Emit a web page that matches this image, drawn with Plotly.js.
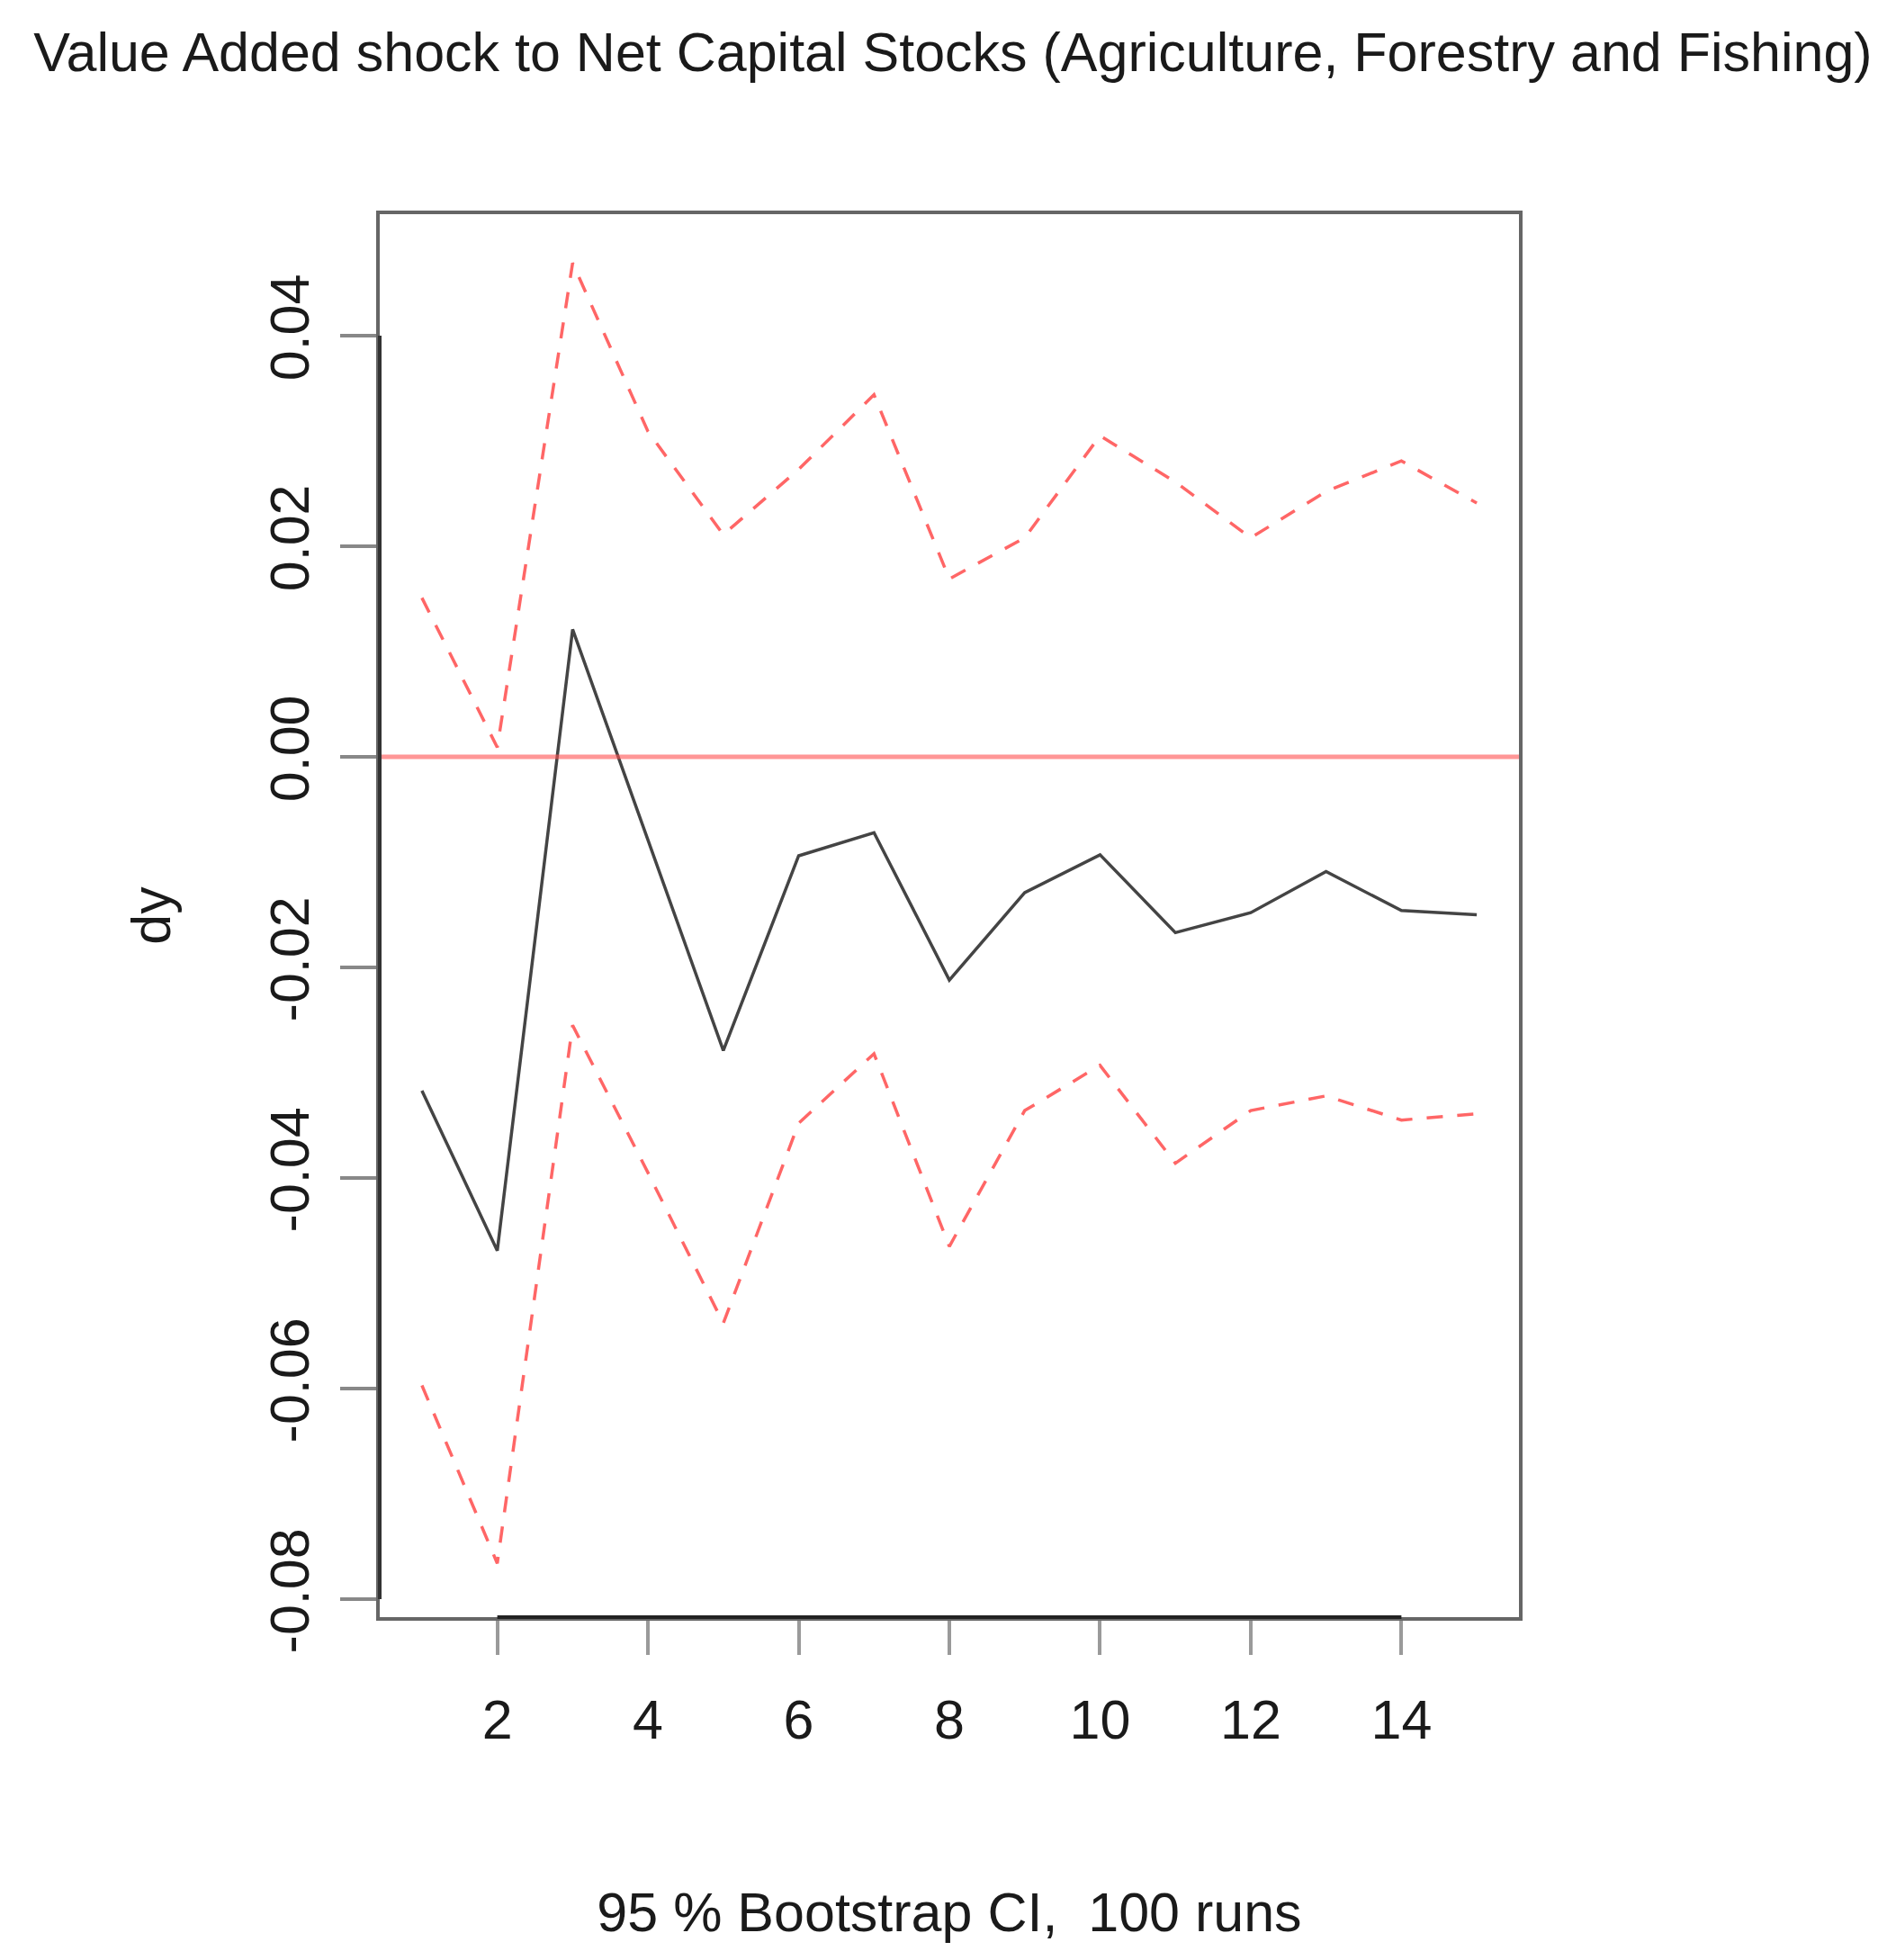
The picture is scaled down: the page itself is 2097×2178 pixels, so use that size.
<!DOCTYPE html>
<html>
<head>
<meta charset="utf-8">
<script src="https://cdn.plot.ly/plotly-3.0.1.min.js"></script>
<style>
  html, body { margin: 0; padding: 0; background: #fff; }
  #chart { width: 2097px; height: 2178px; }
</style>
</head>
<body>
<div id="chart"></div>
<script>
// periods of the impulse response
const periods = [1, 2, 3, 4, 5, 6, 7, 8, 9, 10, 11, 12, 13, 14, 15];

// orthogonal impulse response (black) and bootstrap CI bounds (red dashed)
const irf   = [-0.0317, -0.0469, 0.0121, -0.0078, -0.0279, -0.0094, -0.0072, -0.0212, -0.0129, -0.0093, -0.0167, -0.0148, -0.0109, -0.0146, -0.0150];
const upper = [0.0151, 0.0009, 0.0469, 0.0309, 0.0211, 0.0273, 0.0344, 0.0169, 0.0208, 0.0305, 0.0261, 0.0208, 0.0252, 0.0281, 0.0241];
const lower = [-0.0597, -0.0766, -0.0255, -0.0395, -0.0538, -0.0348, -0.0282, -0.0465, -0.0336, -0.0293, -0.0386, -0.0336, -0.0322, -0.0345, -0.0339];

const xTicks = [2, 4, 6, 8, 10, 12, 14];
const yTicks = [-0.08, -0.06, -0.04, -0.02, 0.00, 0.02, 0.04];
const yTickText = ["-0.08", "-0.06", "-0.04", "-0.02", "0.00", "0.02", "0.04"];
const refLevel = 0;

const FONT = "'Liberation Sans', Arial, Helvetica, sans-serif";
const FS = 61;
const TXT = "#1a1a1a";

const traces = [
  { x: periods, y: irf, type: "scatter", mode: "lines",
    line: { color: "#444", width: 3.5 } },
  { x: periods, y: upper, type: "scatter", mode: "lines",
    line: { color: "#ff6666", width: 3.5, dash: "18px,16px" } },
  { x: periods, y: lower, type: "scatter", mode: "lines",
    line: { color: "#ff6666", width: 3.5, dash: "18px,16px" } }
];

// R style: axis lines only span the tick range, box drawn lighter
const shapes = [
  { type: "line", xref: "paper", yref: "y",
    x0: 0, x1: 1, y0: refLevel, y1: refLevel,
    line: { color: "rgba(255,80,80,0.6)", width: 5 } },
  { type: "line", xref: "x", yref: "paper",
    x0: Math.min(...xTicks), x1: Math.max(...xTicks), y0: 0, y1: 0,
    line: { color: "#222", width: 4 } },
  { type: "line", xref: "paper", yref: "y",
    x0: 0, x1: 0, y0: Math.min(...yTicks), y1: Math.max(...yTicks),
    line: { color: "#333", width: 4 } }
];

const layout = {
  width: 2097, height: 2178,
  paper_bgcolor: "#fff", plot_bgcolor: "#fff",
  showlegend: false,
  margin: { l: 422, r: 409, t: 238, b: 381 },
  font: { family: FONT, size: FS, color: TXT },
  title: {
    text: "Value Added shock to Net Capital Stocks (Agriculture, Forestry and Fishing)",
    font: { family: FONT, size: FS, color: TXT },
    xref: "container", x: 0.505, xanchor: "center",
    yref: "container", y: 1 - 58 / 2178, yanchor: "middle"
  },
  xaxis: {
    range: [0.44, 15.56],
    tickvals: xTicks, ticktext: xTicks.map(String),
    ticks: "outside", ticklen: 38, tickwidth: 4, tickcolor: "#9a9a9a",
    ticklabelstandoff: 20,
    showgrid: false, zeroline: false,
    showline: true, mirror: true, linecolor: "#666", linewidth: 4,
    tickfont: { family: FONT, size: FS, color: TXT },
    title: { text: "95 % Bootstrap CI,  100 runs", standoff: 160,
             font: { family: FONT, size: FS, color: TXT } }
  },
  yaxis: {
    range: [-0.08171, 0.05154],
    tickvals: yTicks, ticktext: yTickText,
    ticks: "outside", ticklen: 40, tickwidth: 4, tickcolor: "#888",
    tickangle: -90, ticklabelstandoff: 11,
    showgrid: false, zeroline: false,
    showline: true, mirror: true, linecolor: "#666", linewidth: 4,
    tickfont: { family: FONT, size: FS, color: TXT },
    title: { text: "dy", standoff: 79,
             font: { family: FONT, size: FS, color: TXT } }
  },
  shapes: shapes
};

Plotly.newPlot("chart", traces, layout, { displayModeBar: false, staticPlot: true });
</script>
</body>
</html>
